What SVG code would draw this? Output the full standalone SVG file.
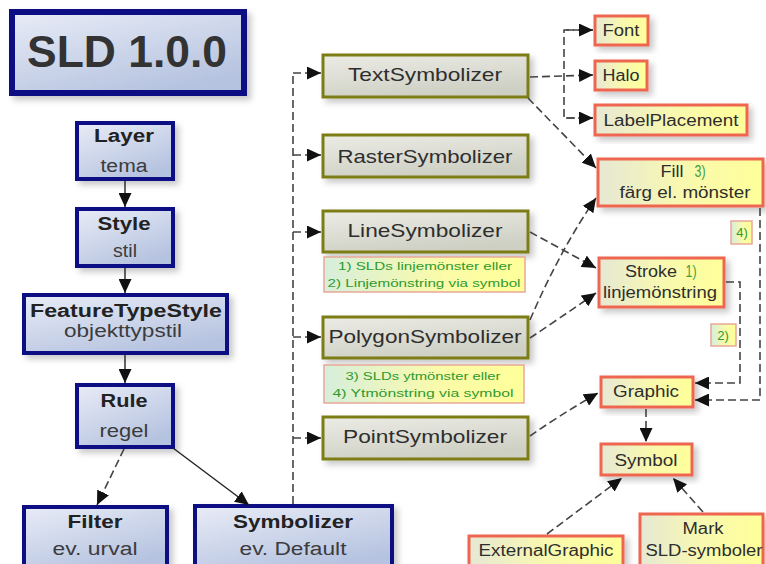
<svg xmlns="http://www.w3.org/2000/svg" width="766" height="564" viewBox="0 0 766 564">
<defs>
  <linearGradient id="gBlue" x1="0" y1="0" x2="0.6" y2="1">
    <stop offset="0" stop-color="#e8ecf6"/>
    <stop offset="1" stop-color="#b6c3e0"/>
  </linearGradient>
  <linearGradient id="gGray" x1="0" y1="0" x2="0.4" y2="1">
    <stop offset="0" stop-color="#ececE6"/>
    <stop offset="1" stop-color="#cfd0c4"/>
  </linearGradient>
  <linearGradient id="gYel" x1="0" y1="0" x2="1" y2="0">
    <stop offset="0" stop-color="#e6e8d4"/>
    <stop offset="0.5" stop-color="#f8f8b0"/>
    <stop offset="1" stop-color="#ffff99"/>
  </linearGradient>
  <linearGradient id="gAnn" x1="0" y1="0" x2="1" y2="0">
    <stop offset="0" stop-color="#d6eedc"/>
    <stop offset="0.6" stop-color="#fbfba8"/>
    <stop offset="1" stop-color="#ffff99"/>
  </linearGradient>
  <filter id="sh" x="-10%" y="-10%" width="130%" height="140%">
    <feDropShadow dx="4" dy="4" stdDeviation="3" flood-color="#000" flood-opacity="0.22"/>
  </filter>
  <marker id="arr" markerUnits="userSpaceOnUse" markerWidth="15" markerHeight="13" refX="14" refY="6.5" orient="auto">
    <path d="M0,0 L14,6.5 L0,13 Z" fill="#111"/>
  </marker>
  <style>
    .bl { fill: url(#gBlue); stroke: #0c0c84; stroke-width: 4; filter: url(#sh); }
    .gr { fill: url(#gGray); stroke: #7d7d14; stroke-width: 3; filter: url(#sh); }
    .ye { fill: url(#gYel); stroke: #ee6650; stroke-width: 3; filter: url(#sh); }
    .an { fill: url(#gAnn); stroke: #e8a898; stroke-width: 1.5; }
    text { font-family: "Liberation Sans", Arial, sans-serif; text-anchor: middle; fill: #333; }
    .lb { font-size: 18px; font-weight: bold; fill: #222; }
    .ln { font-size: 18px; fill: #3c3c3c; }
    .sy { font-size: 19px; fill: #2e2e2e; }
    .rt { font-size: 16px; fill: #2e2e2e; }
    .gt { font-size: 11.5px; fill: #2f9a2f; }
    .gs { font-size: 13px; fill: #2f9a2f; }
    .gn { fill: #3f9f3f; }
    .d { fill: none; stroke: #444; stroke-width: 1.6; stroke-dasharray: 8 4; }
    .s { fill: none; stroke: #222; stroke-width: 1.4; }
  </style>
</defs>

<g id="sld">
  <rect x="12" y="12" width="232" height="81" fill="url(#gBlue)" stroke="#0c0c84" stroke-width="6" filter="url(#sh)"/>
  <text x="127" y="67" font-size="44" font-weight="bold" fill="#111" textLength="200" lengthAdjust="spacingAndGlyphs">SLD 1.0.0</text>
</g>

<g id="layer">
  <rect class="bl" x="77" y="123" width="96" height="56"/>
  <text class="lb" x="124" y="142" textLength="60" lengthAdjust="spacingAndGlyphs">Layer</text>
  <text class="ln" x="124" y="172" textLength="47" lengthAdjust="spacingAndGlyphs">tema</text>
</g>
<g id="style">
  <rect class="bl" x="77" y="209" width="96" height="57"/>
  <text class="lb" x="124" y="230" textLength="53" lengthAdjust="spacingAndGlyphs">Style</text>
  <text class="ln" x="125" y="257" textLength="24" lengthAdjust="spacingAndGlyphs">stil</text>
</g>
<g id="featuretypestyle">
  <rect class="bl" x="24" y="295" width="203" height="58"/>
  <text class="lb" x="126" y="317" textLength="192" lengthAdjust="spacingAndGlyphs">FeatureTypeStyle</text>
  <text class="ln" x="123" y="337" textLength="118" lengthAdjust="spacingAndGlyphs">objekttypstil</text>
</g>
<g id="rule">
  <rect class="bl" x="77" y="385" width="96" height="62"/>
  <text class="lb" x="124" y="407" textLength="47" lengthAdjust="spacingAndGlyphs">Rule</text>
  <text class="ln" x="124" y="437" textLength="49" lengthAdjust="spacingAndGlyphs">regel</text>
</g>
<g id="filter">
  <rect class="bl" x="24" y="507" width="143" height="62"/>
  <text class="lb" x="95" y="528" textLength="55" lengthAdjust="spacingAndGlyphs">Filter</text>
  <text class="ln" x="95" y="555" textLength="85" lengthAdjust="spacingAndGlyphs">ev. urval</text>
</g>
<g id="symbolizer">
  <rect class="bl" x="195" y="506" width="197" height="63"/>
  <text class="lb" x="293" y="528" textLength="120" lengthAdjust="spacingAndGlyphs">Symbolizer</text>
  <text class="ln" x="293" y="555" textLength="107" lengthAdjust="spacingAndGlyphs">ev. Default</text>
</g>

<g id="textsymbolizer">
  <rect class="gr" x="323" y="55" width="205" height="42"/>
  <text class="sy" x="425" y="81" textLength="154" lengthAdjust="spacingAndGlyphs">TextSymbolizer</text>
</g>
<g id="rastersymbolizer">
  <rect class="gr" x="323" y="135" width="205" height="42"/>
  <text class="sy" x="425" y="163" textLength="175" lengthAdjust="spacingAndGlyphs">RasterSymbolizer</text>
</g>
<g id="linesymbolizer">
  <rect class="gr" x="323" y="211" width="205" height="41"/>
  <text class="sy" x="425" y="237" textLength="155" lengthAdjust="spacingAndGlyphs">LineSymbolizer</text>
</g>
<g id="note-line">
  <rect class="an" x="324" y="257" width="201" height="35"/>
  <text class="gt" x="425" y="270" textLength="174" lengthAdjust="spacingAndGlyphs">1) SLDs linjemönster eller</text>
  <text class="gt" x="424" y="287" textLength="193" lengthAdjust="spacingAndGlyphs">2) Linjemönstring via symbol</text>
</g>
<g id="polygonsymbolizer">
  <rect class="gr" x="323" y="317" width="205" height="41"/>
  <text class="sy" x="425" y="343" textLength="193" lengthAdjust="spacingAndGlyphs">PolygonSymbolizer</text>
</g>
<g id="note-polygon">
  <rect class="an" x="324" y="365" width="200" height="38"/>
  <text class="gt" x="423" y="380" textLength="155" lengthAdjust="spacingAndGlyphs">3) SLDs ytmönster eller</text>
  <text class="gt" x="423" y="397" textLength="181" lengthAdjust="spacingAndGlyphs">4) Ytmönstring via symbol</text>
</g>
<g id="pointsymbolizer">
  <rect class="gr" x="323" y="417" width="205" height="42"/>
  <text class="sy" x="425" y="443" textLength="164" lengthAdjust="spacingAndGlyphs">PointSymbolizer</text>
</g>

<g id="font">
  <rect class="ye" x="595" y="16" width="53" height="29"/>
  <text class="rt" x="621" y="36" textLength="37" lengthAdjust="spacingAndGlyphs">Font</text>
</g>
<g id="halo">
  <rect class="ye" x="595" y="61" width="52" height="29"/>
  <text class="rt" x="621" y="81" textLength="37" lengthAdjust="spacingAndGlyphs">Halo</text>
</g>
<g id="labelplacement">
  <rect class="ye" x="595" y="105" width="152" height="30"/>
  <text class="rt" x="671" y="126" textLength="135" lengthAdjust="spacingAndGlyphs">LabelPlacement</text>
</g>
<g id="fill">
  <rect class="ye" x="598" y="159" width="165" height="47"/>
  <text class="rt" x="672" y="177" textLength="23" lengthAdjust="spacingAndGlyphs">Fill</text>
  <text class="rt gn" x="700" y="177" font-size="13" textLength="11" lengthAdjust="spacingAndGlyphs">3)</text>
  <text class="rt" x="685" y="198" textLength="131" lengthAdjust="spacingAndGlyphs">färg el. mönster</text>
</g>
<g id="note-4">
  <rect class="an" x="731" y="221" width="21" height="23"/>
  <text class="gs" x="742" y="237">4)</text>
</g>
<g id="stroke">
  <rect class="ye" x="599" y="258" width="125" height="49"/>
  <text class="rt" x="651" y="277" textLength="52" lengthAdjust="spacingAndGlyphs">Stroke</text>
  <text class="rt gn" x="691" y="277" font-size="13" textLength="11" lengthAdjust="spacingAndGlyphs">1)</text>
  <text class="rt" x="660" y="298" textLength="114" lengthAdjust="spacingAndGlyphs">linjemönstring</text>
</g>
<g id="note-2">
  <rect class="an" x="711" y="324" width="25" height="22"/>
  <text class="gs" x="723" y="340">2)</text>
</g>
<g id="graphic">
  <rect class="ye" x="601" y="377" width="92" height="30"/>
  <text class="rt" x="646" y="397" textLength="66" lengthAdjust="spacingAndGlyphs">Graphic</text>
</g>
<g id="symbol">
  <rect class="ye" x="601" y="444" width="91" height="31"/>
  <text class="rt" x="646" y="466" textLength="63" lengthAdjust="spacingAndGlyphs">Symbol</text>
</g>
<g id="externalgraphic">
  <rect class="ye" x="469" y="536" width="154" height="34"/>
  <text class="rt" x="546" y="556" textLength="135" lengthAdjust="spacingAndGlyphs">ExternalGraphic</text>
</g>
<g id="mark">
  <rect class="ye" x="640" y="514" width="123" height="56"/>
  <text class="rt" x="703" y="534" textLength="41" lengthAdjust="spacingAndGlyphs">Mark</text>
  <text class="rt" x="704" y="556" textLength="117" lengthAdjust="spacingAndGlyphs">SLD-symboler</text>
</g>

<g id="connectors">
  <line class="s" x1="125" y1="181" x2="125" y2="207" marker-end="url(#arr)"/>
  <line class="s" x1="125" y1="268" x2="125" y2="293" marker-end="url(#arr)"/>
  <line class="s" x1="125" y1="355" x2="125" y2="383" marker-end="url(#arr)"/>
  <line class="d" x1="124" y1="449" x2="97" y2="505" marker-end="url(#arr)"/>
  <line class="s" x1="173" y1="448" x2="249" y2="505" marker-end="url(#arr)"/>

  <path class="d" d="M293,504 V73"/>
  <line class="d" x1="293" y1="73" x2="321" y2="73" marker-end="url(#arr)"/>
  <line class="d" x1="293" y1="155" x2="321" y2="155" marker-end="url(#arr)"/>
  <line class="d" x1="293" y1="232" x2="321" y2="232" marker-end="url(#arr)"/>
  <line class="d" x1="293" y1="337" x2="321" y2="337" marker-end="url(#arr)"/>
  <line class="d" x1="293" y1="438" x2="321" y2="438" marker-end="url(#arr)"/>

  <line class="d" x1="530" y1="77" x2="593" y2="75" marker-end="url(#arr)"/>
  <path class="d" d="M593,30 H564 V118 H593"/>
  <line class="d" x1="566" y1="30" x2="593" y2="30" marker-end="url(#arr)"/>
  <line class="d" x1="566" y1="118" x2="593" y2="118" marker-end="url(#arr)"/>

  <line class="d" x1="528" y1="98" x2="596" y2="168" marker-end="url(#arr)"/>
  <line class="d" x1="530" y1="232" x2="596" y2="268" marker-end="url(#arr)"/>
  <path class="d" d="M530,320 Q560,250 596,198" marker-end="url(#arr)"/>
  <path class="d" d="M530,338 Q560,318 596,293" marker-end="url(#arr)"/>
  <path class="d" d="M530,436 Q560,415 598,393" marker-end="url(#arr)"/>

  <path class="d" d="M726,282 H740 V383 H695" marker-end="url(#arr)"/>
  <path class="d" d="M760,208 V400 H695" marker-end="url(#arr)"/>

  <line class="d" x1="646" y1="409" x2="646" y2="442" marker-end="url(#arr)"/>
  <line class="d" x1="547" y1="534" x2="622" y2="478" marker-end="url(#arr)"/>
  <line class="d" x1="703" y1="512" x2="673" y2="478" marker-end="url(#arr)"/>
</g>
</svg>
